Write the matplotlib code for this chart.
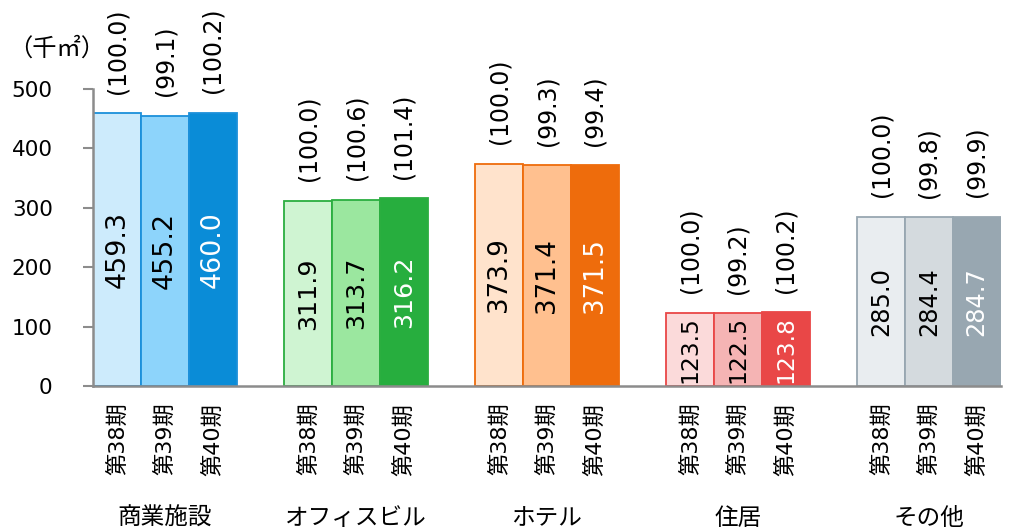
import matplotlib
matplotlib.use("Agg")
import matplotlib.pyplot as plt
import numpy as np

plt.rcParams['font.family'] = ['DejaVu Sans', 'Noto Sans CJK JP']

groups = ['商業施設', 'オフィスビル', 'ホテル', '住居', 'その他']
periods = ['第38期', '第39期', '第40期']
values = {
    '第38期': [459.3, 311.9, 373.9, 123.5, 285.0],
    '第39期': [455.2, 313.7, 371.4, 122.5, 284.4],
    '第40期': [460.0, 316.2, 371.5, 123.8, 284.7],
}
index_labels = {
    '第38期': ['(100.0)', '(100.0)', '(100.0)', '(100.0)', '(100.0)'],
    '第39期': ['(99.1)', '(100.6)', '(99.3)', '(99.2)', '(99.8)'],
    '第40期': ['(100.2)', '(101.4)', '(99.4)', '(100.2)', '(99.9)'],
}
yticks = [0, 100, 200, 300, 400, 500]
unit_label = '（千㎡）'

fills = [
    ['#CDEBFC', '#8DD4FB', '#0A8CD7'],
    ['#CFF4D2', '#9BE79F', '#27AE3E'],
    ['#FFE3CC', '#FFC08F', '#EE6C0C'],
    ['#FBDADA', '#F5B4B4', '#E94747'],
    ['#E9EDF0', '#D4DADE', '#98A7B1'],
]
edges = ['#1B90DA', '#2BAE40', '#EE6C0C', '#E94747', '#98A7B1']
text_colors = ['black', 'black', 'white']
value_font = [19.4, 18.3, 18.8, 16.8, 17.3]

fig = plt.figure(figsize=(10.11, 5.32), dpi=100)
ax = fig.add_axes([93/1011, 1-386/532, 908/1011, 297/532])

width = 0.25
offsets = [-0.25, 0.0, 0.25]
xpos = np.arange(len(groups))
tick_pos, tick_lab = [], []
for pi, p in enumerate(periods):
    for gi in range(len(groups)):
        x = xpos[gi] + offsets[pi]
        v = values[p][gi]
        ax.bar(x, v, width=width, color=fills[gi][pi], edgecolor=edges[gi],
               linewidth=1.3, zorder=2)
        ax.text(x, v/2, f'{v:.1f}', rotation=90, ha='center', va='center',
                fontsize=value_font[gi], color=text_colors[pi], zorder=3)
        ax.annotate(index_labels[p][gi], xy=(x, v), xytext=(0, 14),
                    textcoords='offset points', rotation=90, ha='center',
                    va='bottom', fontsize=17, color='black',
                    annotation_clip=False)
        tick_pos.append(x)
        tick_lab.append(p)

ax.set_xticks(tick_pos)
ax.set_xticklabels(tick_lab, rotation=90, fontsize=16)
ax.tick_params(axis='x', length=0, pad=12)
ax.set_yticks(yticks)
ax.set_yticklabels([str(t) for t in yticks], fontsize=15.5)
ax.tick_params(axis='y', length=7, width=1.5, color='#8C8C8C', pad=22)
ax.set_xlim(-0.377, 4.377)
ax.set_ylim(0, 500)

for s in ['top', 'right']:
    ax.spines[s].set_visible(False)
for s in ['left', 'bottom']:
    ax.spines[s].set_color('#8C8C8C')
    ax.spines[s].set_linewidth(1.8)
ax.spines['left'].set_zorder(4)

for gi, g in enumerate(groups):
    ax.annotate(g, xy=(xpos[gi], 0), xycoords=('data', 'axes fraction'),
                xytext=(0, -132*0.72), textcoords='offset points',
                ha='center', va='center', fontsize=17, annotation_clip=False)

fig.text(57/1011, 1-49/532, unit_label, ha='center', va='center', fontsize=17.5,
         family=['Noto Sans CJK JP', 'DejaVu Sans'])

fig.savefig('out.png', dpi=100)
